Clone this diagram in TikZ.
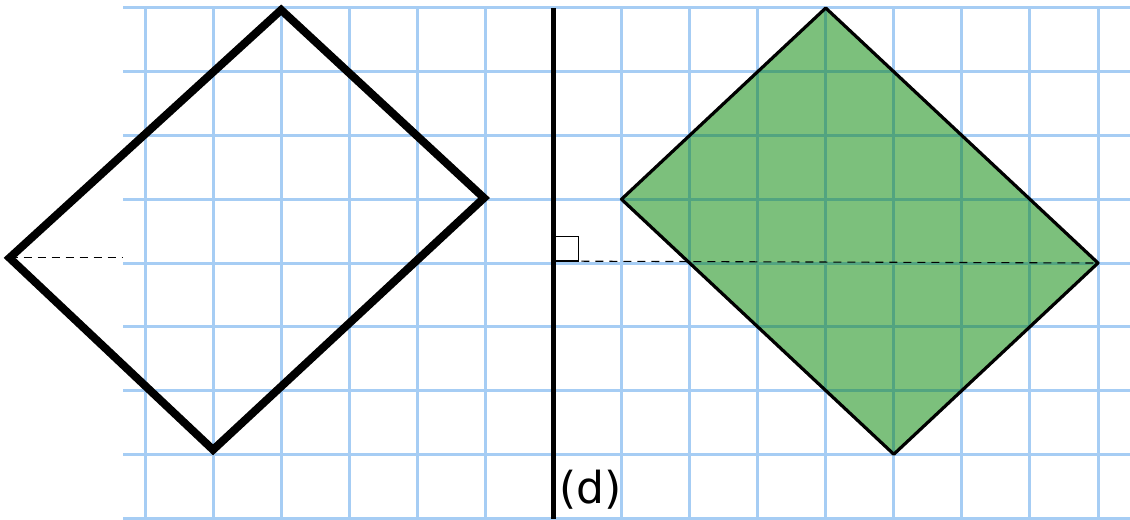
\documentclass[tikz,border=0pt]{standalone}
\usepackage{fontspec}
\newfontfamily\labelfont{DejaVu Sans}
\definecolor{gridblue}{RGB}{166,205,244}
\definecolor{gridteal}{RGB}{82,164,128}
\definecolor{shapegreen}{RGB}{124,192,124}
\tikzset{
  gridline/.style={gridblue, line width=1.5pt},
  mirrorline/.style={black, line width=2.6pt},
  helperline/.style={black, line width=0.55pt, dash pattern=on 4pt off 3pt},
}

\begin{document}
\begin{tikzpicture}[x=34.035pt, y=-31.875pt]
    \useasboundingbox (-2.1302,-0.1255) rectangle (14.470,8.0157);

    % Draw grid
    \foreach \r in {0,...,8}
        \draw[gridline] (-0.323,\r) -- (14.470,\r);
    \foreach \c in {0,...,14}
        \draw[gridline] (\c,0) -- (\c,8.0157);

    % Corners of the two shapes
    \coordinate (a1) at (2,0.03);
    \coordinate (a2) at (4.98,2.98);
    \coordinate (a3) at (1,6.93);
    \coordinate (a4) at (-1.99,3.92);
    \coordinate (b1) at (10,0);
    \coordinate (b2) at (14,4);
    \coordinate (b3) at (11,7);
    \coordinate (b4) at (7,3);

    % Green image
    \fill[shapegreen] (b1) -- (b2) -- (b3) -- (b4) -- cycle;
    \begin{scope}
        \clip (b1) -- (b2) -- (b3) -- (b4) -- cycle;
        \foreach \r in {0,...,8}
            \draw[gridteal, line width=1.5pt] (6,\r) -- (14.470,\r);
        \foreach \c in {7,...,14}
            \draw[gridteal, line width=1.5pt] (\c,0) -- (\c,8);
    \end{scope}
    \draw[black, line width=1.6pt, line join=round] (b1) -- (b2) -- (b3) -- (b4) -- cycle;

    % Original shape
    \draw[black, line width=4pt] (a1) -- (a2) -- (a3) -- (a4) -- cycle;

    % Mirror line
    \coordinate (top) at (6,0);
    \coordinate (bot) at (6,8.0157);
    \draw[mirrorline] (top) -- (bot);

    % Dashed lines
    \coordinate (e1) at (-0.323,3.92);
    \coordinate (e2) at (6,3.97);
    \draw[helperline] (a4) -- (e1);
    \draw[helperline] (e2) -- (b2);
    \draw[black, line width=0.6pt] (e2) rectangle ++(0.367,-0.39);

    % Label
    \node[font=\labelfont\fontsize{22}{26}\selectfont, inner sep=0pt] (d) at (6.54,7.56) {(d)};
\end{tikzpicture}
\end{document}
